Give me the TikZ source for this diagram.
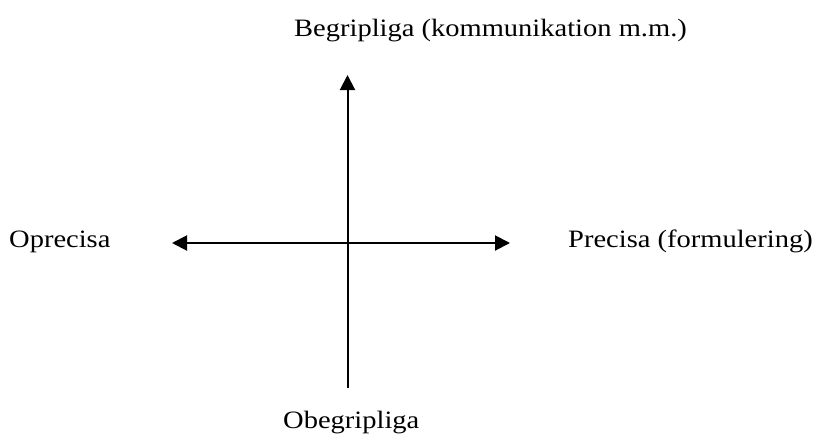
\documentclass[tikz,border=0pt]{standalone}
\usepackage{graphicx}
\usepackage{fontspec}
\setmainfont{Liberation Serif}
\usetikzlibrary{arrows.meta}
\newcommand{\widetext}[1]{\scalebox{1.14}[1]{#1}}
\begin{document}
\begin{tikzpicture}[x=1pt,y=-1pt,
  lbl/.style={inner sep=0pt,anchor=base west,font=\fontsize{25}{30}\selectfont},
  axis/.style={line width=2pt,-{Triangle[length=15pt,width=15pt]}},
  axis2/.style={line width=2pt,{Triangle[length=15pt,width=15pt]}-{Triangle[length=15pt,width=15pt]}}]
\useasboundingbox (0,0) rectangle (819,445);
\node[lbl] (top) at (294,36.5) {\widetext{Begripliga (kommunikation m.m.)}};
\node[lbl] (left) at (9,247) {\widetext{Oprecisa}};
\node[lbl] (right) at (568,247) {\widetext{Precisa (formulering)}};
\node[lbl] (bottom) at (283,428) {\widetext{Obegripliga}};
\coordinate (vb) at (347.5,388);
\coordinate (vt) at (347.5,75);
\coordinate (hl) at (172,243);
\coordinate (hr) at (510,243);
\draw[axis] (vb) -- (vt);
\draw[axis2] (hl) -- (hr);
\end{tikzpicture}
\end{document}
